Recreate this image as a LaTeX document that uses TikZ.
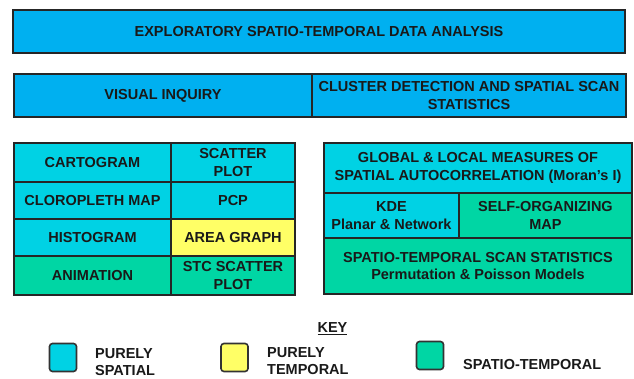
\documentclass[tikz,border=0pt]{standalone}
\usepackage{fontspec}
\setmainfont{Liberation Sans}
\usepackage{tikz}

\definecolor{headblue}{RGB}{0,176,240}
\definecolor{spatialcyan}{RGB}{0,210,228}
\definecolor{temporalyellow}{RGB}{255,255,102}
\definecolor{spatiotempgreen}{RGB}{0,214,164}
\definecolor{textdark}{RGB}{25,25,25}

\begin{document}
\begin{tikzpicture}[x=1pt, y=-1pt,
  cell/.style={draw=black!85, line width=1.2pt, inner sep=0pt, align=center,
    text=textdark, font=\fontsize{14.5}{17.5}\selectfont\bfseries},
  keybox/.style={draw=black!80, line width=1.6pt, rounded corners=3pt,
    minimum width=27pt, minimum height=28pt, inner sep=0pt},
  keytext/.style={anchor=west, inner sep=0pt, align=left, text=textdark,
    font=\fontsize{14.5}{17}\selectfont\bfseries}]
\useasboundingbox (0,0) rectangle (634,379);
% header rows
\node[cell, fill=headblue, minimum width=612pt, minimum height=43pt] (ESTDA) at (319,31.5) {EXPLORATORY SPATIO-TEMPORAL DATA ANALYSIS};
\node[cell, fill=headblue, minimum width=298pt, minimum height=43pt] (VisualInquiry) at (163,95.5) {VISUAL INQUIRY};
\node[cell, fill=headblue, minimum width=314pt, minimum height=43pt] (ClusterDetection) at (469,95.5) {CLUSTER DETECTION AND SPATIAL SCAN\\STATISTICS};
% visual inquiry grid
\node[cell, fill=spatialcyan, minimum width=157pt, minimum height=39pt] (Cartogram) at (92.5,162.5) {CARTOGRAM};
\node[cell, fill=spatialcyan, minimum width=124pt, minimum height=39pt] (ScatterPlot) at (233,162.5) {SCATTER\\PLOT};
\node[cell, fill=spatialcyan, minimum width=157pt, minimum height=37pt] (Cloropleth) at (92.5,200.5) {CLOROPLETH MAP};
\node[cell, fill=spatialcyan, minimum width=124pt, minimum height=37pt] (PCP) at (233,200.5) {PCP};
\node[cell, fill=spatialcyan, minimum width=157pt, minimum height=37pt] (Histogram) at (92.5,237.5) {HISTOGRAM};
\node[cell, fill=temporalyellow, minimum width=124pt, minimum height=37pt] (AreaGraph) at (233,237.5) {AREA GRAPH};
\node[cell, fill=spatiotempgreen, minimum width=157pt, minimum height=39pt] (Animation) at (92.5,275.5) {ANIMATION};
\node[cell, fill=spatiotempgreen, minimum width=124pt, minimum height=39pt] (STCScatter) at (233,275.5) {STC SCATTER\\PLOT};
% cluster detection block
\node[cell, fill=spatialcyan, minimum width=308pt, minimum height=50pt] (MoransI) at (478,168) {GLOBAL \& LOCAL MEASURES OF\\SPATIAL AUTOCORRELATION (Moran's I)};
\node[cell, fill=spatialcyan, minimum width=135pt, minimum height=45pt] (KDE) at (391.5,215.5) {KDE\\Planar \& Network};
\node[cell, fill=spatiotempgreen, minimum width=173pt, minimum height=45pt] (SOM) at (545.5,215.5) {SELF-ORGANIZING\\MAP};
\node[cell, fill=spatiotempgreen, minimum width=308pt, minimum height=56pt] (STScan) at (478,266) {SPATIO-TEMPORAL SCAN STATISTICS\\Permutation \& Poisson Models};
% key
\node[keytext, anchor=center] (KeyTitle) at (332.5,329) {\underline{KEY}};
\node[keybox, fill=spatialcyan] (KeySpatial) at (63,357.5) {};
\node[keytext] (KeySpatialText) at (95,362.5) {PURELY\\SPATIAL};
\node[keybox, fill=temporalyellow] (KeyTemporal) at (234.5,357.5) {};
\node[keytext] (KeyTemporalText) at (267,361) {PURELY\\TEMPORAL};
\node[keybox, fill=spatiotempgreen] (KeySpatioTemp) at (430,355.5) {};
\node[keytext] (KeySpatioTempText) at (463,365) {SPATIO-TEMPORAL};
\end{tikzpicture}
\end{document}
